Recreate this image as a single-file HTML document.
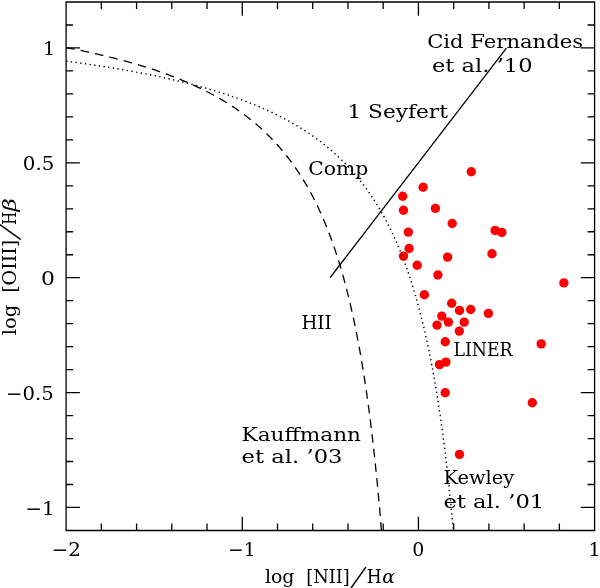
<!DOCTYPE html>
<html><head><meta charset="utf-8"><title>BPT diagram</title>
<style>html,body{margin:0;padding:0;background:#fff;overflow:hidden}svg{display:block}text{font-family:"DejaVu Serif", "Liberation Serif", serif;fill:#000}</style></head><body>
<svg width="600" height="588" viewBox="0 0 600 588">
<rect width="600" height="588" fill="#fff"/>
<g fill="#f00"><circle cx="471.3" cy="171.7" r="4.7"/><circle cx="423.1" cy="187.2" r="4.7"/><circle cx="402.7" cy="196.2" r="4.7"/><circle cx="403.5" cy="210.2" r="4.7"/><circle cx="435.4" cy="208.4" r="4.7"/><circle cx="452.2" cy="223.5" r="4.7"/><circle cx="408.3" cy="232.1" r="4.7"/><circle cx="495.1" cy="230.4" r="4.7"/><circle cx="501.9" cy="232.4" r="4.7"/><circle cx="409.1" cy="248.5" r="4.7"/><circle cx="403.5" cy="256.1" r="4.7"/><circle cx="492.0" cy="253.8" r="4.7"/><circle cx="447.6" cy="257.1" r="4.7"/><circle cx="417.2" cy="265.3" r="4.7"/><circle cx="437.9" cy="275.0" r="4.7"/><circle cx="563.9" cy="282.9" r="4.7"/><circle cx="424.4" cy="294.8" r="4.7"/><circle cx="451.7" cy="303.3" r="4.7"/><circle cx="459.5" cy="310.4" r="4.7"/><circle cx="470.7" cy="309.5" r="4.7"/><circle cx="488.4" cy="313.4" r="4.7"/><circle cx="441.8" cy="316.1" r="4.7"/><circle cx="448.4" cy="322.1" r="4.7"/><circle cx="464.2" cy="322.1" r="4.7"/><circle cx="437.0" cy="325.1" r="4.7"/><circle cx="459.3" cy="331.1" r="4.7"/><circle cx="445.3" cy="341.7" r="4.7"/><circle cx="541.2" cy="343.9" r="4.7"/><circle cx="445.9" cy="362.1" r="4.7"/><circle cx="439.5" cy="364.6" r="4.7"/><circle cx="445.2" cy="392.8" r="4.7"/><circle cx="532.3" cy="402.7" r="4.7"/><circle cx="459.5" cy="454.4" r="4.7"/></g>
<path d="M66.1 47.6L68.7 48.1L71.4 48.6L74.0 49.1L76.7 49.7L79.3 50.2L81.9 50.7L84.6 51.3L87.2 51.8L89.8 52.4L92.4 53.0L95.1 53.6L97.7 54.2L100.3 54.8L102.9 55.4L105.5 56.0L108.1 56.6L110.8 57.3L113.4 57.9L116.0 58.6L118.6 59.3L121.2 60.0L123.8 60.7L126.4 61.4L129.0 62.1L131.5 62.8L134.1 63.5L136.7 64.3L139.3 65.1L141.9 65.8L144.4 66.6L147.0 67.4L149.6 68.3L152.1 69.1L154.7 69.9L157.2 70.8L159.8 71.7L162.3 72.6L164.8 73.5L167.3 74.4L169.9 75.3L172.4 76.3L174.9 77.3L177.4 78.2L179.9 79.2L182.4 80.3L184.8 81.3L187.3 82.4L189.8 83.4L192.2 84.5L194.7 85.7L197.1 86.8L199.5 87.9L202.0 89.1L204.4 90.3L206.8 91.5L209.2 92.8L211.5 94.0L213.9 95.3L216.3 96.6L218.6 97.9L220.9 99.3L223.2 100.6L225.5 102.0L227.8 103.5L230.1 104.9L232.3 106.4L234.6 107.8L236.8 109.4L239.0 110.9L241.2 112.5L243.4 114.0L245.5 115.6L247.7 117.3L249.8 118.9L251.9 120.6L253.9 122.3L256.0 124.1L258.0 125.8L260.1 127.6L262.1 129.4L264.0 131.2L266.0 133.1L267.9 135.0L269.8 136.9L271.7 138.8L273.5 140.7L275.4 142.7L277.2 144.7L279.0 146.7L280.7 148.7L282.5 150.8L284.2 152.8L285.9 154.9L287.5 157.0L289.2 159.2L290.8 161.3L292.4 163.5L294.0 165.7L295.5 167.9L297.0 170.1L298.5 172.3L300.0 174.6L301.4 176.8L302.8 179.1L304.2 181.4L305.6 183.7L307.0 186.0L308.3 188.4L309.6 190.7L310.9 193.1L312.2 195.5L313.4 197.8L314.6 200.2L315.8 202.6L317.0 205.1L318.2 207.5L319.3 209.9L320.4 212.4L321.5 214.8L322.6 217.3L323.7 219.8L324.7 222.2L325.7 224.7L326.8 227.2L327.7 229.7L328.7 232.2L329.7 234.7L330.6 237.2L331.5 239.8L332.5 242.3L333.4 244.8L334.2 247.4L335.1 249.9L335.9 252.5L336.8 255.0L337.6 257.6L338.4 260.1L339.2 262.7L340.0 265.3L340.8 267.9L341.5 270.4L342.3 273.0L343.0 275.6L343.7 278.2L344.4 280.8L345.1 283.4L345.8 286.0L346.5 288.6L347.1 291.2L347.8 293.8L348.4 296.4L349.1 299.0L349.7 301.6L350.3 304.3L350.9 306.9L351.5 309.5L352.1 312.1L352.7 314.7L353.3 317.4L353.8 320.0L354.4 322.6L354.9 325.3L355.5 327.9L356.0 330.5L356.5 333.2L357.0 335.8L357.5 338.5L358.0 341.1L358.5 343.7L359.0 346.4L359.5 349.0L360.0 351.7L360.5 354.3L360.9 357.0L361.4 359.6L361.8 362.3L362.3 364.9L362.7 367.6L363.1 370.2L363.6 372.9L364.0 375.5L364.4 378.2L364.8 380.9L365.2 383.5L365.6 386.2L366.0 388.8L366.4 391.5L366.8 394.1L367.1 396.8L367.5 399.5L367.9 402.1L368.3 404.8L368.6 407.5L369.0 410.1L369.3 412.8L369.7 415.5L370.0 418.1L370.4 420.8L370.7 423.5L371.0 426.1L371.3 428.8L371.7 431.5L372.0 434.1L372.3 436.8L372.6 439.5L372.9 442.1L373.2 444.8L373.5 447.5L373.8 450.2L374.1 452.8L374.4 455.5L374.7 458.2L375.0 460.9L375.3 463.5L375.6 466.2L375.8 468.9L376.1 471.5L376.4 474.2L376.6 476.9L376.9 479.6L377.2 482.2L377.4 484.9L377.7 487.6L377.9 490.3L378.2 493.0L378.4 495.6L378.7 498.3L378.9 501.0L379.2 503.7L379.4 506.3L379.7 509.0L379.9 511.7L380.1 514.4L380.4 517.1L380.6 519.7L380.8 522.4L381.0 525.1L381.2 527.8L381.5 530.5" fill="none" stroke="#000" stroke-width="1.3" stroke-dasharray="8.6 6.15"/>
<path d="M66.1 61.2L69.0 61.5L71.8 61.9L74.7 62.3L77.6 62.7L80.4 63.1L83.3 63.5L86.2 63.9L89.0 64.3L91.9 64.8L94.8 65.2L97.6 65.6L100.5 66.1L103.4 66.5L106.2 67.0L109.1 67.4L111.9 67.9L114.8 68.4L117.7 68.8L120.5 69.3L123.4 69.8L126.2 70.3L129.1 70.8L131.9 71.3L134.8 71.9L137.6 72.4L140.5 72.9L143.3 73.5L146.1 74.0L149.0 74.6L151.8 75.2L154.7 75.7L157.5 76.3L160.3 76.9L163.2 77.5L166.0 78.2L168.8 78.8L171.6 79.4L174.5 80.1L177.3 80.7L180.1 81.4L182.9 82.1L185.7 82.8L188.5 83.5L191.3 84.2L194.1 85.0L196.9 85.7L199.7 86.5L202.5 87.2L205.3 88.0L208.1 88.8L210.9 89.6L213.6 90.5L216.4 91.3L219.2 92.1L221.9 93.0L224.7 93.9L227.5 94.8L230.2 95.7L232.9 96.7L235.7 97.6L238.4 98.6L241.1 99.6L243.8 100.6L246.5 101.6L249.2 102.7L251.9 103.7L254.6 104.8L257.3 105.9L260.0 107.1L262.6 108.2L265.3 109.4L267.9 110.6L270.5 111.8L273.2 113.0L275.8 114.3L278.4 115.6L280.9 116.9L283.5 118.2L286.1 119.6L288.6 121.0L291.1 122.4L293.6 123.8L296.1 125.3L298.6 126.8L301.1 128.3L303.5 129.8L306.0 131.4L308.4 133.0L310.8 134.6L313.2 136.3L315.5 138.0L317.9 139.7L320.2 141.4L322.5 143.2L324.7 145.0L327.0 146.8L329.2 148.7L331.4 150.5L333.6 152.5L335.7 154.4L337.9 156.4L340.0 158.4L342.0 160.4L344.1 162.4L346.1 164.5L348.1 166.6L350.1 168.7L352.0 170.9L353.9 173.0L355.8 175.2L357.7 177.5L359.5 179.7L361.3 182.0L363.0 184.3L364.8 186.6L366.5 188.9L368.2 191.3L369.8 193.7L371.5 196.1L373.1 198.5L374.6 200.9L376.2 203.3L377.7 205.8L379.2 208.3L380.7 210.8L382.1 213.3L383.5 215.8L384.9 218.4L386.3 220.9L387.6 223.5L388.9 226.1L390.2 228.7L391.5 231.3L392.7 233.9L393.9 236.5L395.1 239.2L396.3 241.8L397.4 244.5L398.6 247.1L399.7 249.8L400.8 252.5L401.8 255.2L402.9 257.9L403.9 260.6L404.9 263.3L405.9 266.0L406.9 268.8L407.8 271.5L408.8 274.2L409.7 277.0L410.6 279.7L411.5 282.5L412.3 285.2L413.2 288.0L414.0 290.8L414.9 293.6L415.7 296.3L416.5 299.1L417.3 301.9L418.0 304.7L418.8 307.5L419.5 310.3L420.3 313.1L421.0 315.9L421.7 318.7L422.4 321.5L423.1 324.3L423.8 327.2L424.4 330.0L425.1 332.8L425.7 335.6L426.3 338.4L427.0 341.3L427.6 344.1L428.2 346.9L428.8 349.8L429.3 352.6L429.9 355.4L430.5 358.3L431.0 361.1L431.6 364.0L432.1 366.8L432.7 369.7L433.2 372.5L433.7 375.4L434.2 378.2L434.7 381.1L435.2 383.9L435.7 386.8L436.2 389.6L436.6 392.5L437.1 395.3L437.6 398.2L438.0 401.1L438.4 403.9L438.9 406.8L439.3 409.7L439.7 412.5L440.2 415.4L440.6 418.2L441.0 421.1L441.4 424.0L441.8 426.8L442.2 429.7L442.6 432.6L443.0 435.5L443.3 438.3L443.7 441.2L444.1 444.1L444.5 446.9L444.8 449.8L445.2 452.7L445.5 455.6L445.9 458.4L446.2 461.3L446.5 464.2L446.9 467.1L447.2 469.9L447.5 472.8L447.9 475.7L448.2 478.6L448.5 481.5L448.8 484.3L449.1 487.2L449.4 490.1L449.7 493.0L450.0 495.9L450.3 498.7L450.6 501.6L450.9 504.5L451.2 507.4L451.4 510.3L451.7 513.1L452.0 516.0L452.3 518.9L452.5 521.8L452.8 524.7L453.0 527.6L453.3 530.5" fill="none" stroke="#000" stroke-width="1.45" stroke-dasharray="1.35 3.37"/>
<line x1="330.2" y1="277.5" x2="506.4" y2="48.2" stroke="#000" stroke-width="1.3"/>
<path d="M66.1 2.0H594.6V530.5H66.1ZM66.10 2.0v13.8M66.10 530.5v-13.8M101.33 2.0v7.0M101.33 530.5v-7.0M136.57 2.0v7.0M136.57 530.5v-7.0M171.80 2.0v7.0M171.80 530.5v-7.0M207.03 2.0v7.0M207.03 530.5v-7.0M242.27 2.0v13.8M242.27 530.5v-13.8M277.50 2.0v7.0M277.50 530.5v-7.0M312.73 2.0v7.0M312.73 530.5v-7.0M347.97 2.0v7.0M347.97 530.5v-7.0M383.20 2.0v7.0M383.20 530.5v-7.0M418.43 2.0v13.8M418.43 530.5v-13.8M453.67 2.0v7.0M453.67 530.5v-7.0M488.90 2.0v7.0M488.90 530.5v-7.0M524.13 2.0v7.0M524.13 530.5v-7.0M559.37 2.0v7.0M559.37 530.5v-7.0M594.60 2.0v13.8M594.60 530.5v-13.8M66.1 530.45h7.0M594.6 530.45h-7.0M66.1 507.47h13.8M594.6 507.47h-13.8M66.1 484.50h7.0M594.6 484.50h-7.0M66.1 461.52h7.0M594.6 461.52h-7.0M66.1 438.55h7.0M594.6 438.55h-7.0M66.1 415.57h7.0M594.6 415.57h-7.0M66.1 392.59h13.8M594.6 392.59h-13.8M66.1 369.62h7.0M594.6 369.62h-7.0M66.1 346.64h7.0M594.6 346.64h-7.0M66.1 323.67h7.0M594.6 323.67h-7.0M66.1 300.69h7.0M594.6 300.69h-7.0M66.1 277.71h13.8M594.6 277.71h-13.8M66.1 254.74h7.0M594.6 254.74h-7.0M66.1 231.76h7.0M594.6 231.76h-7.0M66.1 208.78h7.0M594.6 208.78h-7.0M66.1 185.81h7.0M594.6 185.81h-7.0M66.1 162.83h13.8M594.6 162.83h-13.8M66.1 139.86h7.0M594.6 139.86h-7.0M66.1 116.88h7.0M594.6 116.88h-7.0M66.1 93.90h7.0M594.6 93.90h-7.0M66.1 70.93h7.0M594.6 70.93h-7.0M66.1 47.95h13.8M594.6 47.95h-13.8M66.1 24.98h7.0M594.6 24.98h-7.0M66.1 2.00h7.0M594.6 2.00h-7.0" fill="none" stroke="#000" stroke-width="1.3"/>
<text x="51.6" y="555.8" font-size="19" textLength="29.4" lengthAdjust="spacingAndGlyphs">−2</text>
<text x="228.0" y="555.8" font-size="19" textLength="27.5" lengthAdjust="spacingAndGlyphs">−1</text>
<text x="418.4" y="555.8" font-size="19" text-anchor="middle">0</text>
<text x="594.6" y="555.8" font-size="19" text-anchor="middle">1</text>
<text x="55.0" y="55.0" font-size="19" text-anchor="end">1</text>
<text x="22.8" y="169.8" font-size="19" textLength="31.5" lengthAdjust="spacingAndGlyphs">0.5</text>
<text x="41.0" y="284.7" font-size="19" textLength="13.9" lengthAdjust="spacingAndGlyphs">0</text>
<text x="6.1" y="399.6" font-size="19" textLength="47.6" lengthAdjust="spacingAndGlyphs">−0.5</text>
<text x="25.2" y="514.5" font-size="19" textLength="29.5" lengthAdjust="spacingAndGlyphs">−1</text>
<text y="583.4" font-size="19"><tspan x="264.9" textLength="29.6" lengthAdjust="spacingAndGlyphs">log</tspan> <tspan x="306.2" textLength="43.6" lengthAdjust="spacingAndGlyphs">[NII]</tspan><tspan x="350.8" dy="1.5" font-family="'DejaVu Sans Light','DejaVu Serif',serif" font-size="30" rotate="18">/</tspan><tspan x="366.7" textLength="14.9" lengthAdjust="spacingAndGlyphs" dy="-1.5">H</tspan><tspan x="382.3" textLength="12.7" lengthAdjust="spacingAndGlyphs" font-style="italic">α</tspan></text>
<text transform="translate(16.3 334.7) rotate(-90)" y="0" font-size="19"><tspan x="-0.6" textLength="30.7" lengthAdjust="spacingAndGlyphs">log</tspan> <tspan x="41.9" textLength="53.0" lengthAdjust="spacingAndGlyphs">[OIII]</tspan><tspan x="95.0" dy="1.5" font-family="'DejaVu Sans Light','DejaVu Serif',serif" font-size="30" rotate="18">/</tspan><tspan x="110.0" textLength="13.0" lengthAdjust="spacingAndGlyphs" dy="-1.5">H</tspan><tspan x="123.2" textLength="13.3" lengthAdjust="spacingAndGlyphs" font-style="italic">β</tspan></text>
<text x="427.2" y="48.4" font-size="19" textLength="155.8" lengthAdjust="spacingAndGlyphs">Cid Fernandes</text>
<text x="432.0" y="71.7" font-size="19" textLength="100.6" lengthAdjust="spacingAndGlyphs">et al. ’10</text>
<text x="347.4" y="117.5" font-size="19" textLength="100.5" lengthAdjust="spacingAndGlyphs">1 Seyfert</text>
<text x="308.2" y="174.5" font-size="19" textLength="60.0" lengthAdjust="spacingAndGlyphs">Comp</text>
<text x="301.4" y="329.1" font-size="19" textLength="30.4" lengthAdjust="spacingAndGlyphs">HII</text>
<text x="453.4" y="356.3" font-size="19" textLength="59.2" lengthAdjust="spacingAndGlyphs">LINER</text>
<text x="241.6" y="440.7" font-size="19" textLength="119.4" lengthAdjust="spacingAndGlyphs">Kauffmann</text>
<text x="241.6" y="463.0" font-size="19" textLength="100.9" lengthAdjust="spacingAndGlyphs">et al. ’03</text>
<text x="443.4" y="484.3" font-size="19" textLength="70.8" lengthAdjust="spacingAndGlyphs">Kewley</text>
<text x="443.4" y="508.1" font-size="19" textLength="100.8" lengthAdjust="spacingAndGlyphs">et al. ’01</text>
</svg></body></html>
